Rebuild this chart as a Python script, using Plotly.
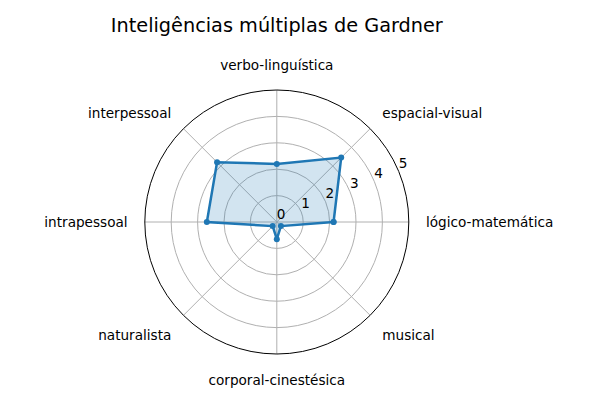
import plotly.graph_objects as go

# Inteligências e pontuações
categorias = ['lógico-matemática', 'espacial-visual', 'verbo-linguística', 'interpessoal',
              'intrapessoal', 'naturalista', 'corporal-cinestésica', 'musical']
valores = [2.15, 3.45, 2.2, 3.2, 2.65, 0.22, 0.65, 0.22]
angulos = [0, 45, 90, 135, 180, 225, 270, 315]
ticks_radiais = [0, 1, 2, 3, 4, 5]

azul = '#1f77b4'

fig = go.Figure()
fig.add_trace(go.Scatterpolar(
    r=valores + valores[:1],
    theta=angulos + angulos[:1],
    mode='lines+markers',
    line=dict(color=azul, width=2.5),
    marker=dict(color=azul, size=6),
    fill='toself',
    fillcolor='rgba(31,119,180,0.2)',
    showlegend=False,
))

# rótulos do eixo radial ao estilo do matplotlib (horizontais, a 22.5°)
fig.add_trace(go.Scatterpolar(
    r=ticks_radiais,
    theta=[22.5] * len(ticks_radiais),
    mode='text',
    text=[str(t) for t in ticks_radiais],
    textposition='top right',
    textfont=dict(size=13.6, color='black'),
    showlegend=False,
    hoverinfo='skip',
    cliponaxis=False,
))

# a página tem 8px de margem no corpo, compensado nos domínios
fig.update_layout(
    width=600, height=400,
    margin=dict(l=0, r=0, t=0, b=0),
    paper_bgcolor='white',
    font=dict(family='DejaVu Sans', size=13.6, color='black'),
    title=dict(text='Inteligências múltiplas de Gardner', x=0.448, xanchor='center',
               y=0.9575, yanchor='middle', font=dict(size=19.3)),
    polar=dict(
        domain=dict(x=[0.228, 0.668], y=[0.135, 0.795]),
        bgcolor='white',
        angularaxis=dict(
            direction='counterclockwise', rotation=0, thetaunit='degrees',
            tickmode='array', tickvals=angulos, ticktext=categorias,
            showline=True, linecolor='black', linewidth=1,
            gridcolor='#b0b0b0', gridwidth=1,
            ticks='outside', ticklen=14, tickcolor='rgba(0,0,0,0)',
        ),
        radialaxis=dict(
            range=[0, 5], tickmode='array', tickvals=ticks_radiais,
            angle=22.5, showticklabels=False, showline=False, ticks='',
            gridcolor='#b0b0b0', gridwidth=1,
        ),
    ),
)

fig.write_html('out.html')
